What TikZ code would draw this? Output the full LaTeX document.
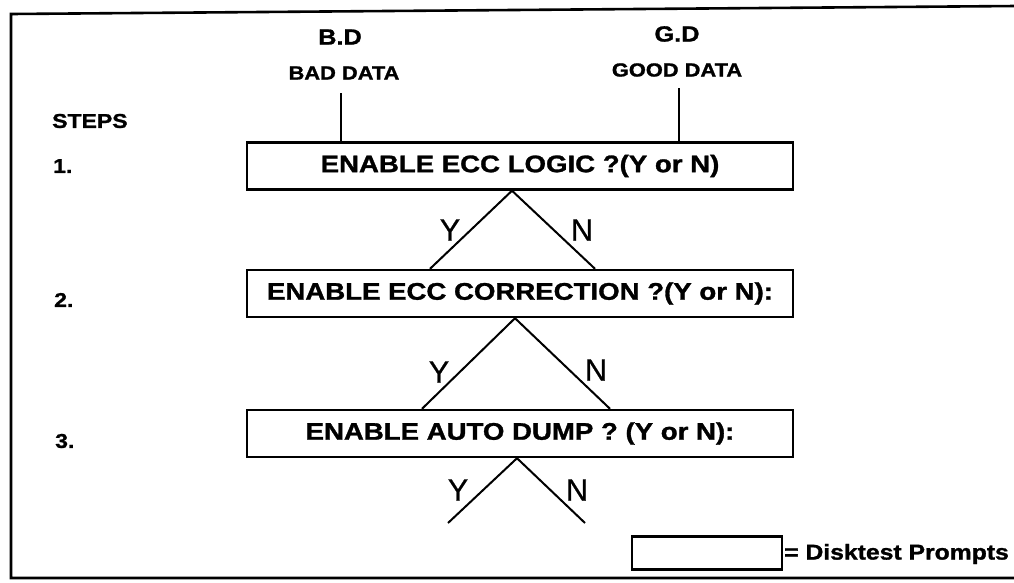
\documentclass[tikz,border=0pt]{standalone}
\usepackage{fontspec}
\usepackage{graphicx}
\setmainfont{Liberation Sans}[BoldFeatures={FakeBold=1.2}]
\newfontfamily\ynfont{Liberation Sans}[FakeBold=0.6]
\usetikzlibrary{calc}
\newcommand\wide[1]{\scalebox{1.15}[1]{#1}}
\tikzset{
  frameline/.style={line width=2.6pt, line cap=rect},
  prompt/.style={draw, line width=2.4pt, rectangle, minimum width=546pt, minimum height=47pt, inner sep=0pt, font=\fontsize{24}{24}\selectfont\bfseries},
  legendbox/.style={draw, line width=2.2pt, rectangle, minimum width=150pt, minimum height=33pt, inner sep=0pt},
  leg/.style={line width=2pt},
  stem/.style={line width=2.4pt},
  yn/.style={font=\fontsize{31}{31}\selectfont\ynfont, inner sep=0pt},
  steplbl/.style={anchor=west, inner sep=0pt, font=\fontsize{20}{20}\selectfont\bfseries},
  head/.style={inner sep=0pt, font=\fontsize{22}{22}\selectfont\bfseries},
  subhead/.style={inner sep=0pt, font=\fontsize{19}{19}\selectfont\bfseries},
}
\begin{document}
\begin{tikzpicture}[x=1pt,y=-1pt]
\useasboundingbox (0,0) rectangle (1014,582);
% frame (right edge cut off in the scan)
\draw[frameline] (1016,6) -- (11,14) -- (11,578) -- (1016,578);

% headers
\node[head] (bd) at (340,37) {\wide{B.D}};
\node[subhead] (bdt) at (344,73) {\wide{BAD DATA}};
\node[head] (gd) at (677,34) {\wide{G.D}};
\node[subhead] (gdt) at (677,70) {\wide{GOOD DATA}};

% step labels
\node[steplbl] (steps) at (52,121) {\wide{STEPS}};
\node[steplbl] (s1) at (53,166) {\wide{1.}};
\node[steplbl] (s2) at (54,300) {\wide{2.}};
\node[steplbl] (s3) at (55,441) {\wide{3.}};

% prompt boxes
\node[prompt] (b1) at (520,166) {\wide{ENABLE ECC LOGIC ?(Y or N)}};
\node[prompt] (b2) at (520,293.5) {\wide{ENABLE ECC CORRECTION ?(Y or N):}};
\node[prompt] (b3) at (520,433.5) {\wide{ENABLE AUTO DUMP ? (Y or N):}};

% stems from header labels
\coordinate (bdl) at (341,93);
\coordinate (gdl) at (679,88);
\draw[stem] (bdl) -- (bdl |- b1.north);
\draw[stem] (gdl) -- (gdl |- b1.north);

% Y / N legs
\coordinate (a1) at ([xshift=-8pt]b1.south);
\draw[leg] (a1) -- ([xshift=-90pt]b2.north);
\draw[leg] (a1) -- ([xshift=75pt]b2.north);
\node[yn] (y1) at (450,230) {Y};
\node[yn] (n1) at (582,230) {N};

\coordinate (a2) at ([xshift=-5pt]b2.south);
\draw[leg] (a2) -- ([xshift=-98pt]b3.north);
\draw[leg] (a2) -- ([xshift=90pt]b3.north);
\node[yn] (y2) at (439,372) {Y};
\node[yn] (n2) at (596,370) {N};

\coordinate (a3) at ([xshift=-3pt]b3.south);
\coordinate (e3y) at (448,523);
\coordinate (e3n) at (585,523);
\draw[leg] (a3) -- (e3y);
\draw[leg] (a3) -- (e3n);
\node[yn] (y3) at (458,490) {Y};
\node[yn] (n3) at (577,490) {N};

% legend
\node[legendbox] (lg) at (707,553) {};
\node[anchor=west, inner sep=0pt, font=\fontsize{21.5}{21.5}\selectfont\bfseries] (lgt) at (784,554) {\wide{= Disktest Prompts}};
\end{tikzpicture}
\end{document}
